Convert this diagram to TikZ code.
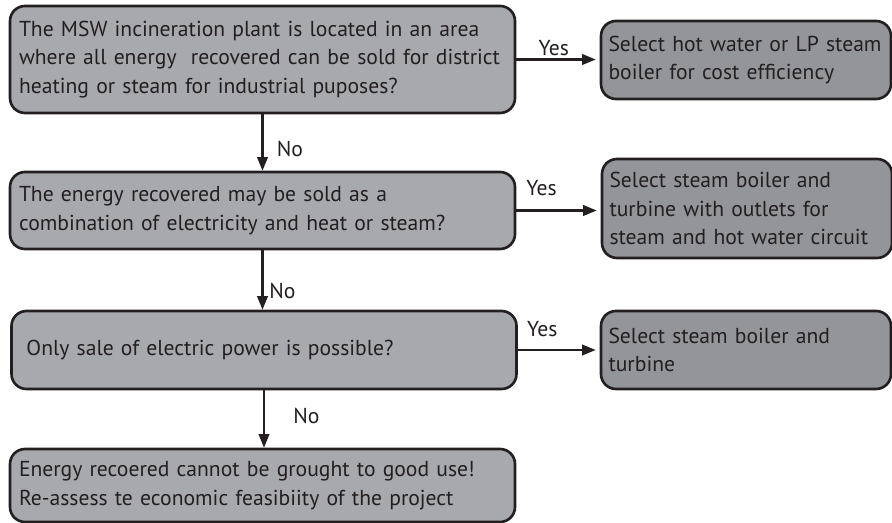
\documentclass[tikz,border=0pt]{standalone}
\usepackage{fontspec}
\setmainfont{PT Sans}
\usetikzlibrary{arrows.meta}

\definecolor{boxline}{HTML}{231F20}
\definecolor{qgray}{HTML}{A7A9AC}
\definecolor{agray}{HTML}{939598}

\tikzset{
  question/.style={draw=boxline, fill=qgray, line width=1.5pt, rounded corners=0.3cm,
    text width=9.74cm, align=left, inner xsep=0.18cm, text=boxline,
    font=\fontsize{12.3}{16.3}\selectfont},
  answer/.style={question, fill=agray, text width=5.5cm, inner xsep=0.15cm},
  flow/.style={draw=boxline, line width=1.2pt, -{Triangle[length=0.27cm,width=0.21cm]}},
  lbl/.style={text=boxline, font=\fontsize{12.3}{14}\selectfont}
}

\begin{document}
\begin{tikzpicture}

\useasboundingbox (0,0) rectangle (17.84,-10.46);

% Questions
\node[question, minimum width=10.1cm, minimum height=2.14cm] (q1) at (5.25,-1.19)
  {The MSW incineration plant is located in an area\\
   where all energy\ \ recovered can be sold for district\\
   heating or steam for industrial puposes?};
\node[question, minimum width=10.1cm, minimum height=1.54cm] (q2) at (5.25,-4.21)
  {The energy recovered may be sold as a\\
   combination of electricity and heat or steam?};
\node[question, minimum width=10.07cm, minimum height=1.56cm] (q3) at (5.28,-7.0)
  {\hspace*{0.12cm}Only sale of electric power is possible?};
\node[question, minimum width=10.1cm, minimum height=1.46cm] (q4) at (5.25,-9.71)
  {Energy recoered cannot be grought to good use!\\
   Re-assess te economic feasibiity of the project};

% Answers
\node[answer, minimum width=5.8cm, minimum height=1.56cm] (r1) at (14.92,-1.20)
  {Select hot water or LP steam\\
   boiler for cost efficiency};
\node[answer, minimum width=5.8cm, minimum height=1.98cm] (r2) at (14.94,-4.17)
  {Select steam boiler and\\
   turbine with outlets for\\
   steam and hot water circuit};
\node[answer, minimum width=5.8cm, minimum height=1.56cm] (r3) at (14.92,-7.0)
  {Select steam boiler and\\
   turbine};

% No branches
\draw[flow] (q1.south) -- (q2.north)
  node[lbl, right, pos=0.62, xshift=0.15cm] {No};
\draw[flow] (q2.south) -- (q2.south |- q3.north)
  node[lbl, right, pos=0.68] {No};
\draw[flow] (q3.south) -- (q3.south |- q4.north)
  node[lbl, right, pos=0.45, xshift=0.45cm] {No};

% Yes branches
\draw[flow, shorten >=0.08cm] (q1.east) -- (q1.east -| r1.west)
  node[lbl, above, pos=0.45, yshift=-0.06cm] {Yes};
\draw[flow, shorten >=0.08cm] (q2.east) -- (q2.east -| r2.west)
  node[lbl, above, pos=0.3, yshift=0.15cm] {Yes};
\draw[flow, shorten >=0.08cm] (q3.east) -- (q3.east -| r3.west)
  node[lbl, above, pos=0.3, yshift=0.12cm] {Yes};

\end{tikzpicture}
\end{document}
